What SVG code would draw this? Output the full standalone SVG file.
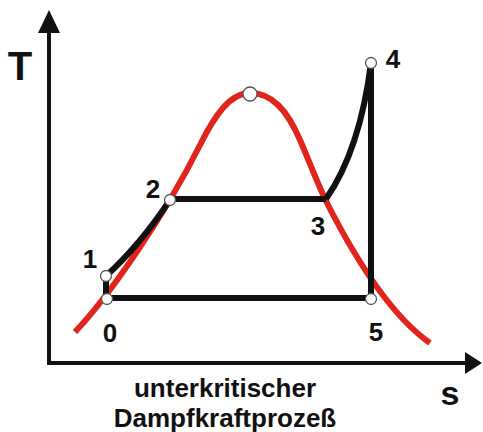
<svg xmlns="http://www.w3.org/2000/svg" width="483" height="432" viewBox="0 0 483 432">
<style>
.ax{stroke:#111;stroke-width:4;fill:none}
.ah{fill:#111}
.red{stroke:#e0261c;stroke-width:6;fill:none;stroke-linecap:butt}
.blk{stroke:#111;stroke-width:6;fill:none;stroke-linejoin:round}
.pt{fill:#fff;stroke:#555;stroke-width:1.3}
text{font-family:"Liberation Sans",Arial,sans-serif;font-weight:bold;fill:#111;text-anchor:middle}
.num{font-size:26px}
</style>
<rect width="483" height="432" fill="#fff"/>
<g id="axes">
<line class="ax" x1="49" y1="363" x2="49" y2="30"/>
<polygon class="ah" points="49,10 38,33 60,33"/>
<line class="ax" x1="47" y1="363" x2="467" y2="363"/>
<polygon class="ah" points="482,363 465,352 465,374"/>
<text x="20" y="80" font-size="40">T</text>
<text x="450" y="405" font-size="34">s</text>
</g>
<g id="dome">
<path class="red" d="M75,332 C110,295 165,215 200,145 C215,115 230,93 250,93 C272,93 287,110 300,140 C310,163 318,185 327,203 C355,258 390,315 430,343"/>
</g>
<g id="connectors">
<path class="blk" d="M106,299 L106,276"/>
<path class="blk" d="M106,276 Q140,245 170,200"/>
<path class="blk" d="M170,199 L326,199"/>
<path class="blk" d="M326,199 Q360,150 371,63"/>
<path class="blk" d="M371,63 L371,299"/>
<path class="blk" d="M371,298 L107,298"/>
</g>
<g id="node-critical"><circle class="pt" cx="250" cy="94" r="7"/></g>
<g id="node-0"><circle class="pt" cx="107" cy="299" r="5.5"/><text class="num" x="110" y="342">0</text></g>
<g id="node-1"><circle class="pt" cx="106" cy="276" r="5.5"/><text class="num" x="90" y="268">1</text></g>
<g id="node-2"><circle class="pt" cx="170" cy="200" r="5.5"/><text class="num" x="153" y="198">2</text></g>
<g id="node-3"><text class="num" x="318" y="235">3</text></g>
<g id="node-4"><circle class="pt" cx="371" cy="63" r="5.5"/><text class="num" x="393" y="68">4</text></g>
<g id="node-5"><circle class="pt" cx="371" cy="299" r="5.5"/><text class="num" x="376" y="341">5</text></g>
<g id="caption">
<text x="225" y="397" font-size="26">unterkritischer</text>
<text x="225" y="427" font-size="26">Dampfkraftprozeß</text>
</g>
</svg>
